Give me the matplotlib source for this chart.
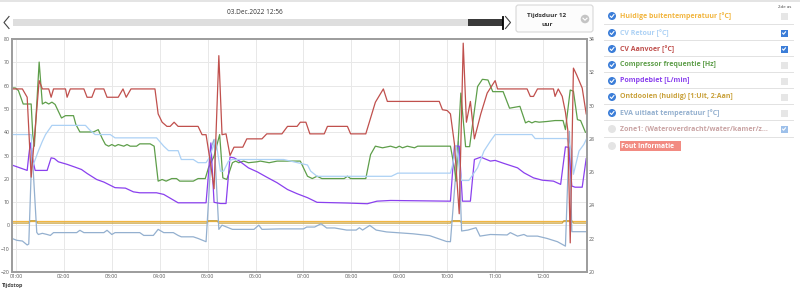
import matplotlib
matplotlib.use("Agg")
import matplotlib.pyplot as plt
from matplotlib.patches import Rectangle, Circle, FancyBboxPatch
from matplotlib.ticker import FixedLocator, FuncFormatter

plt.rcParams['font.family'] = ['Open Sans', 'DejaVu Sans']

# ---- data (times hh:mm, 03.Dec.2022) ----
aanvoer_t = ["00:55", "01:08", "01:14", "01:19", "01:29", "01:33", "01:41", "01:44", "01:47", "02:02",
             "02:04", "02:08", "02:25", "02:29", "02:35", "02:39", "02:50", "02:54", "03:08", "03:14",
             "03:18", "03:24", "03:54", "03:58", "04:03", "04:09", "04:13", "04:18", "04:23", "04:48",
             "04:53", "04:58", "05:04", "05:08", "05:14", "05:18", "05:23", "05:28", "05:33", "05:44",
             "05:49", "06:08", "06:14", "06:33", "06:40", "06:52", "06:56", "07:03", "07:08", "07:26",
             "07:30", "07:55", "07:59", "08:18", "08:30", "08:40", "08:45", "09:50", "09:54", "10:00",
             "10:04", "10:09", "10:15", "10:20", "10:24", "10:29", "10:34", "10:42", "10:50", "11:00",
             "11:03", "11:40", "11:44", "11:48", "11:53", "12:13", "12:15", "12:19", "12:24", "12:28",
             "12:31", "12:34", "12:38", "12:42", "12:49", "12:54"]
aanvoer_v = [31.0, 31.0, 30.5, 25.7, 31.5, 31.0, 31.0, 30.5, 31.0, 31.0,
             30.5, 31.0, 31.0, 30.5, 30.5, 31.0, 31.0, 30.5, 30.5, 31.0,
             30.5, 31.0, 31.0, 29.5, 29.0, 28.75, 28.75, 29.0, 28.75, 28.75,
             28.25, 28.25, 26.4, 25.0, 33.0, 28.25, 28.3, 27.0, 27.5, 27.5,
             28.0, 28.0, 28.3, 28.3, 28.75, 28.75, 29.0, 29.0, 28.3, 28.3,
             28.75, 28.75, 28.3, 28.3, 30.2, 31.0, 30.25, 30.25, 29.75, 29.7,
             29.5, 27.7, 23.5, 33.75, 29.0, 30.25, 28.0, 29.5, 30.75, 31.5,
             31.0, 31.0, 30.55, 30.55, 31.0, 31.0, 30.55, 31.0, 30.55, 29.6,
             28.5, 21.75, 32.25, 31.85, 31.05, 29.5]

retour_t = ["00:55", "01:19", "01:21", "01:28", "01:33", "01:37", "01:45", "02:27", "02:32", "02:39",
            "02:58", "03:04", "03:56", "04:05", "04:11", "04:23", "04:27", "04:42", "04:48", "04:58",
            "05:02", "05:10", "05:16", "05:20", "05:26", "05:31", "06:35", "07:05", "07:09", "07:17",
            "08:50", "08:58", "10:04", "10:07", "10:11", "10:18", "10:27", "10:38", "10:46", "10:54",
            "11:00", "11:46", "11:50", "12:30", "12:36", "12:38", "12:45", "12:51", "12:55"]
retour_v = [28.26, 28.26, 26.36, 27.27, 27.85, 28.26, 28.81, 28.81, 28.55, 28.26,
            28.26, 28.06, 28.06, 27.56, 27.29, 27.29, 26.76, 26.76, 26.57, 26.57,
            26.86, 27.99, 26.06, 26.06, 26.66, 26.76, 26.76, 26.43, 26.06, 25.75,
            25.75, 25.94, 25.94, 26.5, 27.6, 25.5, 25.5, 26.26, 27.27, 27.86,
            28.26, 28.26, 28.02, 28.02, 27.27, 25.87, 27.27, 27.66, 28.06]

compr_t = ["00:55", "00:59", "01:03", "01:09", "01:19", "01:21", "01:23", "01:29", "01:33", "01:37",
           "01:41", "01:45", "01:49", "01:53", "01:57", "02:02", "02:12", "02:15", "02:20", "02:37",
           "02:43", "02:48", "02:52", "02:56", "03:00", "03:04", "03:08", "03:15", "03:19", "03:23",
           "03:31", "03:35", "03:48", "03:53", "03:58", "04:03", "04:08", "04:15", "04:21", "04:25",
           "04:42", "04:48", "04:57", "05:01", "05:08", "05:15", "05:19", "05:24", "05:31", "05:35",
           "05:39", "05:45", "05:51", "06:02", "06:06", "06:17", "06:27", "06:56", "07:00", "07:05",
           "07:11", "07:17", "07:23", "07:51", "07:55", "07:59", "08:18", "08:24", "08:30", "08:39",
           "08:49", "08:56", "09:00", "09:04", "09:10", "09:19", "09:23", "10:04", "10:09", "10:11",
           "10:17", "10:23", "10:28", "10:38", "10:44", "10:51", "10:57", "11:10", "11:18", "11:31",
           "11:38", "11:42", "11:46", "11:50", "11:55", "12:05", "12:15", "12:25", "12:28", "12:34",
           "12:38", "12:43", "12:47", "12:53"]
compr_v = [59.0, 59.0, 57.9, 52.1, 52.1, 39.0, 34.0, 70.1, 52.1, 52.9,
           52.1, 52.9, 51.9, 49.0, 46.1, 47.1, 47.1, 43.3, 40.1, 40.1,
           41.1, 37.3, 34.7, 34.0, 34.7, 34.0, 34.7, 34.0, 34.7, 34.0,
           34.0, 35.0, 35.0, 34.0, 19.0, 19.7, 19.0, 20.1, 20.1, 19.0,
           19.0, 20.1, 20.1, 24.7, 29.7, 39.0, 20.4, 19.7, 26.9, 27.6,
           26.9, 27.6, 26.9, 27.3, 27.6, 26.9, 27.6, 27.6, 24.7, 21.1,
           20.1, 21.1, 20.1, 20.1, 21.1, 20.1, 20.1, 30.4, 34.0, 33.3,
           34.0, 33.3, 34.0, 33.3, 34.0, 33.3, 34.0, 34.0, 24.7, 19.0,
           56.8, 33.8, 33.8, 59.6, 62.7, 62.4, 57.4, 57.4, 50.3, 51.1,
           44.0, 44.7, 44.0, 44.6, 44.3, 44.6, 45.0, 45.0, 41.1, 58.1,
           57.6, 45.4, 45.0, 40.0]

pomp_t = ["00:55", "01:14", "01:16", "01:18", "01:21", "01:24", "01:39", "01:44", "01:48", "01:53",
          "02:04", "02:14", "02:22", "02:29", "02:41", "02:50", "03:04", "03:17", "03:27", "03:35",
          "03:56", "04:05", "04:23", "04:58", "05:01", "05:04", "05:08", "05:16", "05:23", "05:28",
          "05:33", "05:39", "05:51", "06:02", "06:14", "06:27", "06:40", "06:52", "07:05", "07:17",
          "07:55", "08:20", "08:32", "08:49", "10:04", "10:09", "10:15", "10:19", "10:29", "10:34",
          "10:42", "10:54", "11:00", "11:11", "11:28", "11:36", "11:48", "11:59", "12:13", "12:22",
          "12:28", "12:32", "12:36", "12:40", "12:49", "12:54"]
pomp_v = [25.9, 23.6, 30.0, 35.4, 28.0, 23.6, 23.6, 29.0, 28.7, 27.3,
          26.2, 25.0, 24.0, 22.3, 19.7, 18.6, 16.2, 16.0, 14.4, 14.0,
          14.0, 13.3, 9.7, 9.7, 22.0, 35.4, 9.9, 9.4, 9.4, 29.3,
          29.0, 27.8, 24.7, 23.0, 20.7, 18.3, 15.4, 13.6, 11.9, 9.9,
          9.6, 9.3, 10.4, 10.7, 10.4, 34.0, 34.0, 10.4, 10.4, 28.3,
          29.3, 27.6, 27.9, 26.6, 24.7, 22.6, 20.4, 19.4, 19.0, 17.6,
          33.7, 33.5, 16.9, 16.4, 16.4, 28.7]

eva_t = ["00:55", "01:01", "01:08", "01:14", "01:16", "01:20", "01:26", "01:28", "01:33", "01:39",
         "01:43", "01:47", "02:16", "02:20", "02:25", "02:50", "02:54", "03:00", "03:04", "03:35",
         "03:40", "03:52", "03:58", "04:05", "04:17", "04:23", "04:27", "04:42", "04:48", "04:58",
         "05:01", "05:05", "05:08", "05:14", "05:18", "05:31", "05:58", "06:04", "06:08", "06:30",
         "07:00", "07:04", "07:14", "07:22", "07:29", "07:39", "07:54", "08:06", "08:10", "08:14",
         "08:23", "08:31", "08:44", "09:17", "09:38", "09:59", "10:04", "10:09", "10:14", "10:18",
         "10:26", "10:36", "10:41", "10:54", "11:15", "11:19", "11:28", "11:36", "11:40", "11:53",
         "12:05", "12:18", "12:28", "12:33", "12:36", "12:54"]
eva_v = [-5.6, -6.4, -6.7, -8.4, -8.0, 33.0, -3.0, -3.9, -3.4, -3.9,
         -4.3, -3.1, -3.1, -2.1, -3.1, -3.1, -2.1, -3.9, -3.1, -3.1,
         -4.3, -4.3, -1.7, -3.1, -3.1, -4.3, -4.9, -4.9, -5.6, -7.0,
         10.0, 34.0, 36.9, -1.7, 0.1, -1.7, -1.7, 0.1, -1.7, -1.5,
         -1.5, -0.7, -0.7, 0.7, -1.1, -1.1, -2.0, -2.0, -1.0, -2.0,
         0.0, -2.0, -2.8, -3.6, -4.4, -6.9, -7.0, 15.0, 36.0, -2.4,
         -2.0, -1.0, -4.6, -3.9, -4.1, -3.1, -4.6, -3.9, -4.6, -4.6,
         -5.6, -7.0, -8.9, 40.4, -2.7, -2.7]

ontdooi_t = ["00:55", "01:16", "01:18", "01:25", "01:27", "04:59", "05:01", "05:12", "05:14", "10:04",
             "10:06", "10:16", "10:18", "12:24", "12:26", "12:36", "12:38", "12:55"]
ontdooi_v = [1, 1, 2, 2, 1, 1, 2, 2, 1, 1,
             2, 2, 1, 1, 2, 2, 1, 1]

buiten_t = ["00:55", "04:00", "08:00", "12:55"]
buiten_v = [2.0, 2.0, 2.0, 2.0]

left_ticks = [-20, -10, 0, 10, 20, 30, 40, 50, 60, 70, 80]
right_ticks = [20, 22, 24, 26, 28, 30, 32, 34]
hour_ticks = [1, 2, 3, 4, 5, 6, 7, 8, 9, 10, 11, 12]

legend_labels = ["Huidige buitentemperatuur [°C]", "CV Retour [°C]", "CV Aanvoer [°C]",
                 "Compressor frequentie [Hz]", "Pompdebiet [L/min]",
                 "Ontdooien (huidig) [1:Uit, 2:Aan]", "EVA uitlaat temperatuur [°C]",
                 "Zone1: (Wateroverdracht/water/kamer/z...", "Fout Informatie"]
legend_on = [True, True, True, True, True, True, True, False, False]
legend_2de = [False, True, True, False, False, False, False, True, None]

C_BUITEN = '#f2b640'
C_RETOUR = '#acd1f5'
C_AANVOER = '#c0504d'
C_COMPR = '#5e9e4a'
C_POMP = '#8a40ee'
C_ONTDOOI = '#c9a13b'
C_EVA = '#94b0cf'
legend_colors = [C_BUITEN, C_RETOUR, C_AANVOER, C_COMPR, C_POMP, C_ONTDOOI, C_EVA, '#c9a3a3', 'white']


def hrs(times):
    return [int(s[:2]) + int(s[3:]) / 60 for s in times]


fig = plt.figure(figsize=(8, 2.92), dpi=100)
W, H = 800, 292

ax = fig.add_axes([12 / W, 20 / H, 575 / W, 233 / H])
ax2 = ax.twinx()

lw = 0.9
ax.plot(hrs(buiten_t), buiten_v, color=C_BUITEN, lw=lw)
ax.plot(hrs(ontdooi_t), ontdooi_v, color=C_ONTDOOI, lw=lw)
ax.plot(hrs(eva_t), eva_v, color=C_EVA, lw=lw)
ax.plot(hrs(compr_t), compr_v, color=C_COMPR, lw=lw)
ax.plot(hrs(pomp_t), pomp_v, color=C_POMP, lw=lw)
ax2.plot(hrs(retour_t), retour_v, color=C_RETOUR, lw=lw)
ax2.plot(hrs(aanvoer_t), aanvoer_v, color=C_AANVOER, lw=lw)

ax.set_xlim(55 / 60, 12 + 55 / 60)
ax.set_ylim(-20, 80)
ax2.set_ylim(20, 34)
ax.yaxis.set_major_locator(FixedLocator(left_ticks))
ax2.yaxis.set_major_locator(FixedLocator(right_ticks))
ax.xaxis.set_major_locator(FixedLocator(hour_ticks))
ax.xaxis.set_major_formatter(FuncFormatter(lambda v, p: "%02d:00" % int(round(v))))
ax.grid(True, color='#e8e8e8', lw=0.7)
ax.set_axisbelow(True)
for a in (ax, ax2):
    a.tick_params(length=0, labelsize=3.7, labelcolor='#555555', pad=1.5)
    for s in a.spines.values():
        s.set_color('#9c9c9c')
        s.set_linewidth(1.2)

# ---- overlay in pixel coordinates for the dashboard widgets ----
ov = fig.add_axes([0, 0, 1, 1])
ov.set_xlim(0, W)
ov.set_ylim(H, 0)
ov.axis('off')
ov.patch.set_alpha(0)

ov.text(2, 285, "Tijdstop", fontsize=3.9, fontweight='bold', color='#444444', va='center')

ov.add_patch(Rectangle((0, 0), W, 2, color='#e4e4e4', lw=0))
ov.text(255, 12, "03.Dec.2022 12:56", fontsize=4.7, color='#333333', ha='center', va='center')
ov.add_patch(Rectangle((13, 19.3), 455, 6.7, color='#dedede', lw=0))
ov.add_patch(Rectangle((468, 19.3), 34.5, 6.7, color='#3a3a3a', lw=0))
ov.plot([502.7, 502.7], [17, 28.5], color='black', lw=1.3)
ov.plot([9, 4, 9], [16.5, 22.5, 28.5], color='#444444', lw=0.8)
ov.plot([505.5, 510.5, 505.5], [16.5, 22.5, 28.5], color='#444444', lw=0.8)

ov.add_patch(FancyBboxPatch((516, 5), 77, 27, boxstyle='round,pad=0,rounding_size=2.5',
                            ec='#d8d8d8', fc='#fcfcfc', lw=0.8))
ov.text(547, 15, "Tijdsduur 12", fontsize=4.6, fontweight='bold', color='#333333', ha='center', va='center')
ov.text(547, 24, "uur", fontsize=4.6, fontweight='bold', color='#333333', ha='center', va='center')
ov.add_patch(Circle((585, 19), 4.3, color='#c4c4c4', lw=0))
ov.plot([583, 585, 587], [18.2, 20.2, 18.2], color='white', lw=0.8)


def check(x, y, s=1.0):
    ov.plot([x - 1.9 * s, x - 0.5 * s, x + 2.0 * s], [y, y + 1.5 * s, y - 1.6 * s],
            color='white', lw=0.8, solid_capstyle='round')


ov.text(785, 6.5, "2de as", fontsize=3.2, color='#444444', ha='center', va='center')
row_y = [16, 33, 49, 65, 81, 97, 113, 129, 146]
for yy in [24, 40, 56, 72, 88, 104, 120, 137]:
    ov.plot([604, 793], [yy, yy], color='#e2e2e2', lw=0.7)

for i, lab in enumerate(legend_labels):
    y = row_y[i]
    if legend_on[i]:
        ov.add_patch(Circle((612, y), 4.0, color='#3b7dd8', lw=0))
        check(612, y)
    else:
        ov.add_patch(Circle((612, y), 4.0, color='#e4e4e4', lw=0))
    if lab == "Fout Informatie":
        ov.add_patch(Rectangle((619.5, y - 4.8), 61, 9.6, color='#f28b82', lw=0))
        ov.text(621, y, lab, fontsize=4.9, fontweight='bold', color='white', va='center')
    else:
        ov.text(620, y, lab, fontsize=5.0, fontweight='bold', color=legend_colors[i], va='center')
    if legend_2de[i] is None:
        continue
    if legend_2de[i]:
        fc = '#3b7dd8' if legend_on[i] else '#9dc0ea'
        ov.add_patch(Rectangle((780.5, y - 3.5), 7, 7, color=fc, lw=0))
        check(784, y, 0.8)
    else:
        ov.add_patch(Rectangle((780.5, y - 3.5), 7, 7, color='#e6e6e6', lw=0))

fig.savefig("out.png", dpi=100)
